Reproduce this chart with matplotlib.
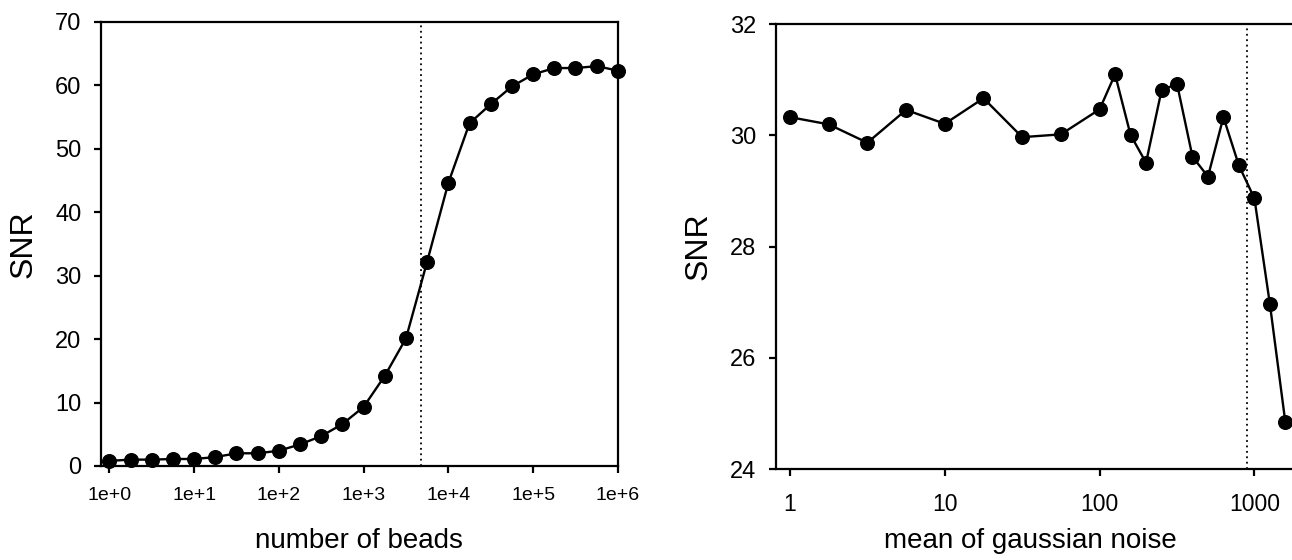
import numpy as np
import matplotlib
matplotlib.use("Agg")
import matplotlib.pyplot as plt
from matplotlib.ticker import FixedLocator, FixedFormatter, NullLocator

plt.rcParams['font.family'] = ['Liberation Sans', 'DejaVu Sans']

# left panel: SNR vs number of beads
beads = 10 ** (np.arange(25) / 4.0)
snr_beads = [0.8, 1.0, 1.0, 1.1, 1.1, 1.4, 2.0, 2.0, 2.4, 3.4, 4.7, 6.6, 9.3,
             14.2, 20.1, 32.2, 44.6, 54.0, 57.0, 59.8, 61.7, 62.7, 62.7, 63.0, 62.3]
beads_mark = 4700
beads_ticks = [1e0, 1e1, 1e2, 1e3, 1e4, 1e5, 1e6]
beads_labels = ["1e+0", "1e+1", "1e+2", "1e+3", "1e+4", "1e+5", "1e+6"]

# right panel: SNR vs mean of gaussian noise
noise_exp = [0, 0.25, 0.5, 0.75, 1.0, 1.25, 1.5, 1.75, 2.0, 2.1, 2.2, 2.3, 2.4,
             2.5, 2.6, 2.7, 2.8, 2.9, 3.0, 3.1, 3.2]
noise = 10 ** np.array(noise_exp)
snr_noise = [30.33, 30.20, 29.87, 30.46, 30.21, 30.67, 29.97, 30.02, 30.47, 31.10,
             30.01, 29.51, 30.81, 30.93, 29.62, 29.26, 30.33, 29.46, 28.87, 26.97, 24.84]
noise_mark = 895
noise_ticks = [1, 10, 100, 1000]
noise_labels = ["1", "10", "100", "1000"]

fig = plt.figure(figsize=(12.92, 5.6), dpi=100)
ax1 = fig.add_axes([0.0782, 0.1679, 0.4000, 0.7933])
ax2 = fig.add_axes([0.6006, 0.1625, 0.4302, 0.7941])


def style(ax, xfs, xpad):
    for s in ax.spines.values():
        s.set_linewidth(1.6)
    ax.tick_params(axis='both', direction='out', length=5, width=1.6, color='black')
    ax.tick_params(axis='y', labelsize=17, pad=9)
    ax.tick_params(axis='x', labelsize=xfs, pad=xpad)
    ax.xaxis.set_minor_locator(NullLocator())


ax1.set_xscale('log')
ax1.plot(beads, snr_beads, color='black', lw=1.7, marker='o', ms=9.8, clip_on=False, zorder=3)
ax1.axvline(beads_mark, color='black', lw=1.3, ls=(0, (1, 2)))
ax1.set_xlim(0.798, 1e6)
ax1.set_ylim(0, 70)
ax1.set_yticks(np.arange(0, 71, 10))
ax1.xaxis.set_major_locator(FixedLocator(beads_ticks))
ax1.xaxis.set_major_formatter(FixedFormatter(beads_labels))
style(ax1, 14, 10)
ax1.set_ylabel("SNR", fontsize=23, va='center')
ax1.yaxis.set_label_coords(-0.150, 0.5)
ax1.set_xlabel("number of beads", fontsize=20, va='center')
ax1.xaxis.set_label_coords(0.5, -0.169)

ax2.set_xscale('log')
ax2.plot(noise, snr_noise, color='black', lw=1.7, marker='o', ms=9.8, clip_on=False, zorder=3)
ax2.axvline(noise_mark, color='black', lw=1.3, ls=(0, (1, 2)))
ax2.set_xlim(0.812, 10 ** 3.5)
ax2.set_ylim(24, 32)
ax2.set_yticks(np.arange(24, 33, 2))
ax2.xaxis.set_major_locator(FixedLocator(noise_ticks))
ax2.xaxis.set_major_formatter(FixedFormatter(noise_labels))
style(ax2, 16.5, 12)
ax2.set_ylabel("SNR", fontsize=23, va='center')
ax2.yaxis.set_label_coords(-0.14, 0.5)
ax2.set_xlabel("mean of gaussian noise", fontsize=20, va='center')
ax2.xaxis.set_label_coords(0.4575, -0.162)

fig.savefig("out.png", dpi=100)
